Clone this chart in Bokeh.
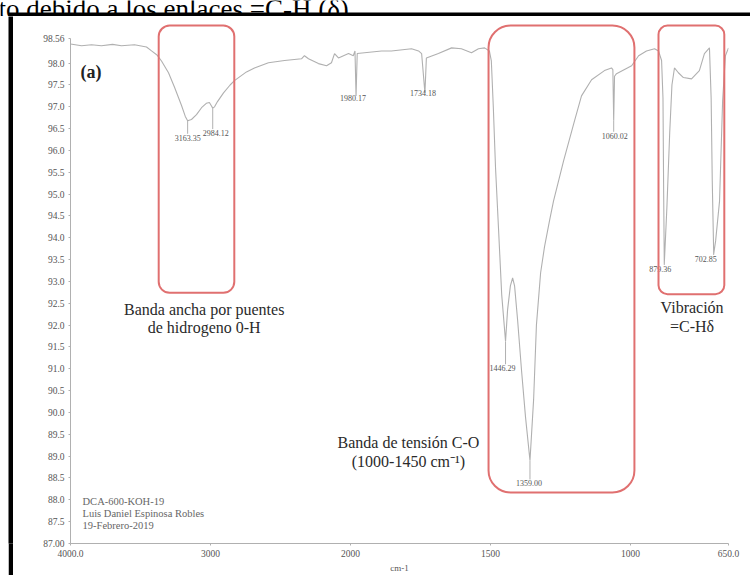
import numpy as np
from bokeh.plotting import figure
from bokeh.layouts import column, row
from bokeh.models import (ColumnDataSource, Range1d, FixedTicker, BoxAnnotation, Label, Spacer)
from bokeh.core.properties import value
from bokeh.embed import file_html
from bokeh.resources import INLINE

# ---------------- data ----------------
wavenumber = [4000, 3921, 3850, 3779, 3700, 3636, 3543, 3457, 3421, 3380, 3350, 3300, 3257,
              3207, 3180, 3163.35, 3136, 3100, 3064, 3030, 3008, 2995, 2984.12, 2971, 2950,
              2907, 2860, 2829, 2743, 2686, 2586, 2471, 2350, 2329, 2300, 2229, 2171, 2136,
              2114, 2086, 2014, 1990, 1984, 1980.17, 1976, 1950, 1889, 1854, 1782, 1757,
              1746, 1734.18, 1729, 1686, 1639, 1604, 1568, 1543, 1521, 1504, 1497, 1490,
              1482, 1471, 1460, 1446.29, 1439, 1429, 1421, 1414, 1403, 1389, 1375, 1359.00,
              1346, 1336, 1321, 1307, 1289, 1275, 1239, 1200, 1175, 1139, 1093, 1068, 1063,
              1060.02, 1057, 1050, 996, 971, 943, 914, 900, 889, 884, 881.5, 879.36, 870,
              860, 852, 843, 829, 811, 782, 754, 736, 718, 712, 708, 702.85, 696, 682, 671,
              661, 650]
transmittance = [98.44, 98.40, 98.42, 98.40, 98.43, 98.40, 98.42, 98.37, 98.28, 98.18, 98.05,
                 97.78, 97.45, 97.03, 96.78, 96.68, 96.71, 96.82, 96.98, 97.08, 97.10, 97.03,
                 96.97, 97.00, 97.12, 97.32, 97.50, 97.60, 97.80, 97.89, 98.01, 98.06, 98.10,
                 98.17, 98.10, 97.99, 97.94, 98.01, 98.22, 98.12, 98.22, 98.17, 98.28, 97.25,
                 98.22, 98.24, 98.28, 98.28, 98.33, 98.28, 98.22, 97.32, 98.12, 98.22, 98.35,
                 98.33, 98.24, 98.33, 98.35, 98.28, 98.05, 97.00, 95.60, 94.16, 92.70, 91.63,
                 92.35, 92.90, 93.08, 92.90, 92.10, 90.95, 89.90, 88.90, 90.30, 92.00, 93.20,
                 93.80, 94.40, 94.84, 95.76, 96.68, 97.25, 97.62, 97.83, 97.89, 97.85, 96.68,
                 97.70, 97.76, 97.94, 98.17, 98.28, 98.33, 98.28, 98.06, 97.20, 95.00, 93.40,
                 94.70, 96.40, 97.50, 97.89, 97.78, 97.67, 97.64, 97.83, 98.22, 98.35, 97.20,
                 95.30, 93.63, 93.93, 94.84, 97.14, 98.17, 98.35]

peak_wn = [3163.35, 2984.12, 1980.17, 1734.18, 1446.29, 1359.00, 1060.02, 879.36, 702.85]
peak_T = [96.68, 96.97, 97.25, 97.32, 91.63, 88.90, 96.68, 93.40, 93.63]

x_tick_wn = [4000, 3000, 2000, 1500, 1000, 650]
x_tick_labels = ["4000.0", "3000", "2000", "1500", "1000", "650.0"]
y_ticks = [87.0, 87.5, 88.0, 88.5, 89.0, 89.5, 90.0, 90.5, 91.0, 91.5, 92.0, 92.5,
           93.0, 93.5, 94.0, 94.5, 95.0, 95.5, 96.0, 96.5, 97.0, 97.5, 98.0, 98.56]
y_tick_labels = ["87.00", "87.5", "88.0", "88.5", "89.0", "89.5", "90.0", "90.5", "91.0",
                 "91.5", "92.0", "92.5", "93.0", "93.5", "94.0", "94.5", "95.0", "95.5",
                 "96.0", "96.5", "97.0", "97.5", "98.0", "98.56"]

band_wn_high = [3370, 1507, 900]
band_wn_low = [2830, 986, 665]
band_T_low = [92.74, 88.17, 92.71]
band_T_high = 98.86

caption = "to debido a los enlaces =C-H (δ)."

SERIF = "Liberation Serif"

# ---------------- page layout ----------------
PAGE_W, PAGE_H = 750, 575
CAP_H = 12          # strip with the document caption (cut by the window top)
BAR_TOP = 4         # black top edge of the inserted picture
PAD_L, BAR_L = 8, 5 # white gap and black left edge
HEAD_H = CAP_H + BAR_TOP
W = PAGE_W - PAD_L - BAR_L
H = PAGE_H - HEAD_H
LEFT, RIGHT, TOP, BOTTOM = 57, 22, 0, 31
U_MAX = 4700.0
T_MIN = 87.0
PX_U = (W - LEFT - RIGHT) / U_MAX          # pixels per axis unit (x)
PX_T = (H - TOP - BOTTOM) / 12.0686        # pixels per % T
T_MAX = T_MIN + (H - TOP - BOTTOM) / PX_T


def xpos(wn):
    """Spectrometer abscissa: scale doubles below 2000 cm-1."""
    wn = np.asarray(wn, dtype=float)
    return np.where(wn >= 2000, 4000 - wn, 2000 + 2 * (2000 - wn))


def page_t(py):   # page y pixel -> %T
    return T_MIN + (HEAD_H + H - BOTTOM - py) / PX_T


def plain(w, h, color):
    f = figure(width=w, height=h, output_backend="svg", toolbar_location=None,
               min_border=0, x_axis_location=None, y_axis_location=None,
               x_range=Range1d(0, w), y_range=Range1d(0, h))
    try:
        f.title = None
    except Exception:
        f.title.visible = False
    f.background_fill_color = color
    f.border_fill_color = color
    f.outline_line_color = None
    f.grid.visible = False
    return f


# document caption strip + black top edge of the picture
head = plain(PAGE_W, HEAD_H, "white")
head.add_layout(Label(x=-2, y=HEAD_H - 8.0, text=caption, text_font=SERIF,
                      text_font_size="27px", text_color="black", text_baseline="alphabetic"))
head.add_layout(BoxAnnotation(left=PAD_L, right=PAGE_W, bottom=0, top=BAR_TOP,
                              fill_color="black", fill_alpha=1, line_color=None))

left_bar = plain(BAR_L, H, "black")

# main chart
p = figure(width=W, height=H, x_range=Range1d(0, U_MAX), y_range=Range1d(T_MIN, T_MAX),
           output_backend="svg", toolbar_location=None,
           min_border_left=LEFT, min_border_right=RIGHT,
           min_border_top=TOP, min_border_bottom=BOTTOM)
p.background_fill_color = "white"
p.border_fill_color = "white"
p.outline_line_color = None
p.grid.visible = False

p.xaxis.ticker = FixedTicker(ticks=[float(v) for v in xpos(x_tick_wn)])
p.xaxis.major_label_overrides = {float(v): lab for v, lab in zip(xpos(x_tick_wn), x_tick_labels)}
p.xaxis.bounds = (0, U_MAX)
p.xaxis.axis_label = "cm-1"
p.xaxis.axis_label_text_font = SERIF
p.xaxis.axis_label_text_font_style = "normal"
p.xaxis.axis_label_text_font_size = "9px"
p.xaxis.axis_label_text_color = "#555555"
p.xaxis.axis_label_standoff = 3
p.yaxis.ticker = FixedTicker(ticks=y_ticks)
p.yaxis.major_label_overrides = {float(v): lab for v, lab in zip(y_ticks, y_tick_labels)}
p.yaxis.bounds = (T_MIN, 98.56)
for ax in (p.xaxis, p.yaxis):
    ax.axis_line_color = "#b0b0b0"
    ax.major_tick_line_color = "#b0b0b0"
    ax.minor_tick_line_color = None
    ax.major_tick_in = 0
    ax.major_tick_out = 2
    ax.major_label_text_font = SERIF
    ax.major_label_text_font_size = "9.5px"
    ax.major_label_text_color = "#555555"
    ax.major_label_standoff = 4

# spectrum
src = ColumnDataSource(dict(x=xpos(wavenumber), y=transmittance))
p.line("x", "y", source=src, line_color="#b0b0b0", line_width=1.1)

# peak labels
label_dx = [0, 3, -3, -2, -3, -1, 1, -4, -8]       # pixels
label_dy = [17, 25, 2, 0, 27, 23, 15, 5, 5]         # pixels below the peak
px = xpos(peak_wn)
lab_x = px + np.array(label_dx) / PX_U
lab_y = np.array(peak_T) - np.array(label_dy) / PX_T
lead_y1 = np.array(peak_T) - np.maximum(np.array(label_dy) - 4, 0) / PX_T
p.segment(x0=px, y0=peak_T, x1=px, y1=lead_y1, line_color="#b0b0b0", line_width=1)
p.text(x=lab_x, y=lab_y, text=[f"{w:.2f}" for w in peak_wn], text_font=value(SERIF),
       text_font_size=value("8px"), text_color="#555555", text_align="center",
       text_baseline="middle")

# highlighted bands
radii = [11, 22, 9]
for hi, lo, tlo, r in zip(band_wn_high, band_wn_low, band_T_low, radii):
    p.add_layout(BoxAnnotation(left=float(xpos(hi)), right=float(xpos(lo)), top=band_T_high,
                               bottom=tlo, fill_alpha=0, line_color="#e07070", line_alpha=1,
                               line_width=2, border_radius=r))


def note(wn, t, txt, size="16px", style="normal", align="center", color="#2a2a2a"):
    p.add_layout(Label(x=float(xpos(wn)), y=t, text=txt, text_font=SERIF, text_font_size=size,
                       text_font_style=style, text_align=align, text_baseline="middle",
                       text_color=color))


note(3929, page_t(72), "(a)", size="18px", style="bold", align="left", color="#222222")
note(3045, page_t(310), "Banda ancha por puentes")
note(3045, page_t(328), "de hidrogeno 0-H")
note(1793, page_t(443), "Banda de tensión C-O")
note(1793, page_t(462), "(1000-1450 cm⁻¹)")
note(780, page_t(308), "Vibración")
note(780, page_t(327), "=C-Hδ")
note(3914, page_t(502), "DCA-600-KOH-19", size="10.5px", align="left", color="#666666")
note(3914, page_t(514), "Luis Daniel Espinosa Robles", size="10.5px", align="left", color="#666666")
note(3914, page_t(526), "19-Febrero-2019", size="10.5px", align="left", color="#666666")

layout = column(
    head,
    row(Spacer(width=PAD_L, height=H), left_bar, p, spacing=0),
    spacing=0,
)

open("out.html", "w").write(file_html(layout, INLINE))
